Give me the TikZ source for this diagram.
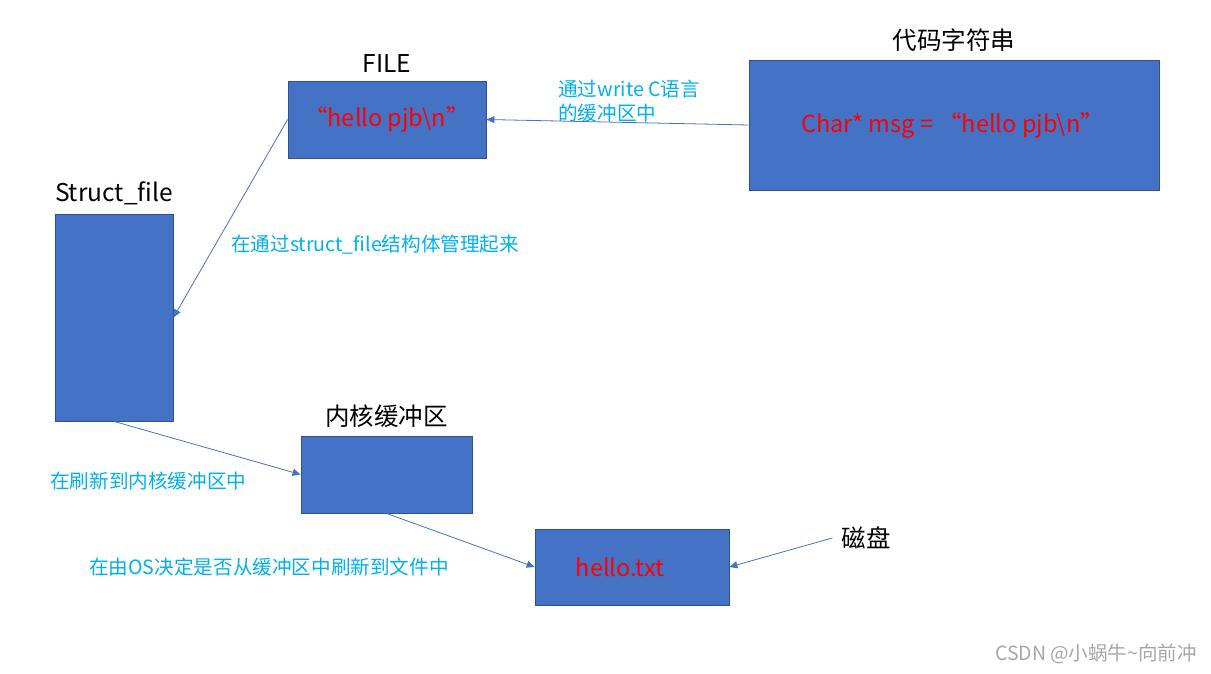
\documentclass[tikz,border=0pt]{standalone}
\usepackage{fontspec}
\setmainfont{Noto Sans CJK SC}
\usetikzlibrary{positioning,arrows.meta}

\definecolor{boxblue}{HTML}{4472C4}
\definecolor{boxedge}{HTML}{2F528F}
\definecolor{noteblue}{HTML}{00B0F0}

\begin{document}
\begin{tikzpicture}[
  x=1pt,y=-1pt,
  >={Triangle[length=8pt,width=7pt]},
  node distance=7pt,
  buf/.style={draw=boxedge,fill=boxblue,line width=0.8pt,inner sep=0pt,
    font=\fontsize{23.5}{28}\selectfont,text=red},
  title/.style={font=\fontsize{24.5}{28}\selectfont,inner sep=1pt},
  note/.style={font=\fontsize{19.6}{24}\selectfont,text=noteblue,inner sep=0pt,
    align=left,anchor=west},
  flow/.style={->,draw=boxblue,line width=0.8pt}
]
  \useasboundingbox (0,0) rectangle (1211,673);
  % buffers
  \node[buf,minimum width=198pt,minimum height=77pt] (file) at (387,119.5) {“hello pjb\textbackslash n”};
  \node[buf,minimum width=410pt,minimum height=130pt] (code) at (954,125) {Char* msg = “hello pjb\textbackslash n”\kern3pt};
  \node[buf,minimum width=118pt,minimum height=207pt] (sfile) at (114,317.5) {};
  \node[buf,minimum width=171pt,minimum height=77pt] (kbuf) at (386.5,474.5) {};
  \node[buf,minimum width=194pt,minimum height=76pt] (txt) at (632,567) {hello.txt\kern24pt};
  % titles
  \node[title,above=of file] (filetitle) {FILE};
  \node[title,above=of code] (codetitle) {代码字符串};
  \node[title,above=of sfile] (sfiletitle) {Struct\_file};
  \node[title,above=of kbuf] (kbuftitle) {内核缓冲区};
  \node[title] (disk) at (866,538) {磁盘};
  % arrows
  \draw[flow] (code.west) -- (file.east);
  \draw[flow] (file.west) -- (sfile.east);
  \draw[flow] (sfile.south) -- (kbuf.west);
  \draw[flow] (kbuf.south) -- (txt.west);
  \draw[flow] ([xshift=-8pt]disk.west) -- (txt.east);
  % notes
  \node[note] (writenote) at (558,101) {通过write C语言\\的缓冲区中};
  \node[note] (structnote) at (231,245) {在通过struct\_file结构体管理起来};
  \node[note] (flushnote) at (50,481) {在刷新到内核缓冲区中};
  \node[note] (osnote) at (89,567) {在由OS决定是否从缓冲区中刷新到文件中};
  \node[anchor=east,text=gray!70,font=\fontsize{19.5}{22}\selectfont,inner sep=0pt] (mark) at (1197,654) {CSDN @小蜗牛\textasciitilde 向前冲};
\end{tikzpicture}
\end{document}
